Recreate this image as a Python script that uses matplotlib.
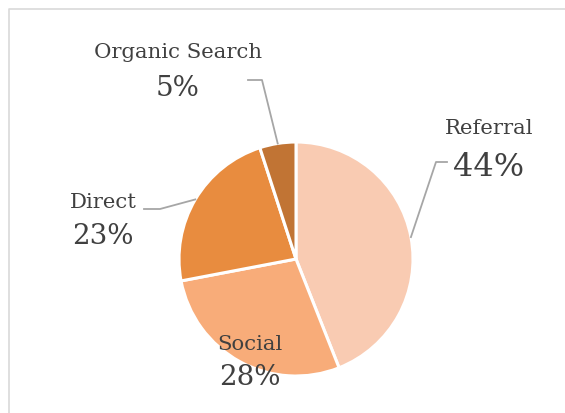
import numpy as np
import matplotlib.pyplot as plt
from matplotlib.lines import Line2D

labels = ["Referral", "Social", "Direct", "Organic Search"]
values = [44, 28, 23, 5]
colors = ["#F9CBB2", "#F8AC79", "#E88C3F", "#C17434"]

W, H = 565, 414
TXT = "#404040"
plt.rcParams['font.family'] = ['DejaVu Serif']


def img(x, y):
    return x, H - y


def plot_pie():
    fig = plt.figure(figsize=(W / 100, H / 100), dpi=100)
    ax = fig.add_axes([0, 0, 1, 1])

    # chart border: only the top and left edges fall inside the picture
    fig.add_artist(Line2D([8.5 / W, 8.5 / W, 1.2], [-0.2, 1 - 9.5 / H, 1 - 9.5 / H],
                          transform=fig.transFigure, color="#D9D9D9", lw=1.2))

    cx, cy = img(296, 260)
    r = 117
    wedges, _ = ax.pie(values, colors=colors, startangle=90, counterclock=False,
                       center=(cx, cy), radius=r, frame=True,
                       wedgeprops=dict(edgecolor="white", linewidth=2.2))
    ax.set_xlim(0, W)
    ax.set_ylim(0, H)
    ax.axis('off')

    # label name / pct positions (image pixels) and leader elbow points
    spots = {
        "Referral": ((489, 128), (489, 167), 23, [(447, 163), (436, 163)]),
        "Social": ((250, 345), (250, 378), 20, None),
        "Direct": ((103, 203), (103, 237), 20, [(144, 210), (160, 210)]),
        "Organic Search": ((178, 52), (178, 88), 20, [(248, 81), (262, 81)]),
    }
    for w, lab, v in zip(wedges, labels, values):
        (nx, ny), (px, py), ps, elbow = spots[lab]
        ax.text(*img(nx, ny), lab, ha="center", va="center", fontsize=15.3, color=TXT)
        ax.text(*img(px, py), f"{v}%", ha="center", va="center", fontsize=ps, color=TXT)
        if elbow:
            mid = np.deg2rad((w.theta1 + w.theta2) / 2)
            ex, ey = cx + r * np.cos(mid), cy + r * np.sin(mid)
            xs = [img(*p)[0] for p in elbow] + [ex]
            ys = [img(*p)[1] for p in elbow] + [ey]
            ax.plot(xs, ys, color="#A6A6A6", lw=1.3)

    fig.savefig("out.png", dpi=100, facecolor="white")


if __name__ == "__main__":
    plot_pie()
